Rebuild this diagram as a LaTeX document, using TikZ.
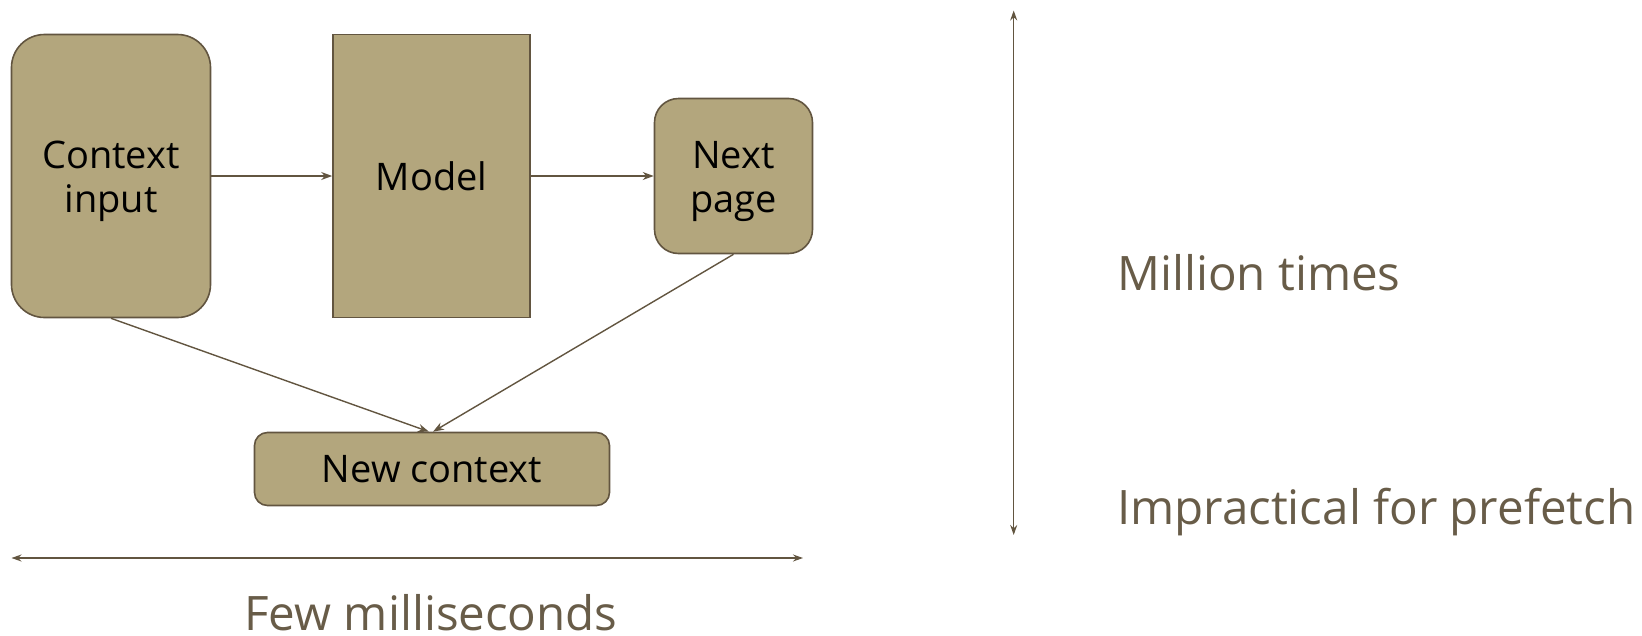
\documentclass[tikz,border=0pt]{standalone}
\usepackage{fontspec}
\setmainfont{Open Sans}
\usetikzlibrary{arrows.meta,calc}
\definecolor{boxfill}{RGB}{179,166,125}
\definecolor{boxline}{RGB}{98,85,64}
\definecolor{labeltext}{RGB}{104,92,72}
\tikzset{
  block/.style={draw=boxline, line width=1.6pt, fill=boxfill, inner sep=0pt,
    align=center, font=\fontsize{38}{44}\selectfont, text=black},
  flow/.style={draw=boxline, line width=1.4pt, -{Stealth[length=11pt,width=8pt]}},
  span/.style={draw=boxline, line width=1.4pt, {Stealth[length=10pt,width=7pt]}-{Stealth[length=10pt,width=7pt]}},
  caption/.style={text=labeltext, font=\fontsize{47.5}{54}\selectfont, inner sep=0pt}
}
% taller first line so two-line labels sit a little lower in their boxes
\newcommand{\toplift}{\rule{0pt}{38pt}}
\begin{document}
\begin{tikzpicture}[x=1pt,y=-1pt]
  \useasboundingbox (0,0) rectangle (1642,635);

  % processing blocks
  \node[block, rounded corners=33pt, minimum width=199pt, minimum height=283pt]
    (ci) at (111,176) {\toplift Context\\input};
  \node[block, minimum width=197pt, minimum height=283pt]
    (model) at (431.5,176) {Model};
  \node[block, rounded corners=24pt, minimum width=158pt, minimum height=155pt]
    (np) at (733.5,176) {\toplift Next\\page};
  \node[block, rounded corners=13pt, minimum width=355pt, minimum height=73pt]
    (nc) at (432,469) {New context};

  % data flow
  \draw[flow] (ci.east) -- (model.west);
  \draw[flow] (model.east) -- (np.west);
  \draw[flow] (ci.south) -- ($(nc.north)+(-3,0)$);
  \draw[flow] (np.south) -- ($(nc.north)+(1,0)$);

  % time axis
  \coordinate (tl) at (11.5,558);
  \coordinate (tr) at (803,558);
  \draw[span] (tl) -- (tr);
  \node[caption, anchor=base] (few) at (431,630) {Few milliseconds};

  % repetition axis
  \coordinate (rt) at (1013.7,10.5);
  \coordinate (rb) at (1013.7,535);
  \draw[span] (rt) -- (rb);
  \node[caption, anchor=base west] (mil) at (1117,290) {Million times};
  \node[caption, anchor=base west] (imp) at (1117,524.5) {Impractical for prefetch};
\end{tikzpicture}
\end{document}
